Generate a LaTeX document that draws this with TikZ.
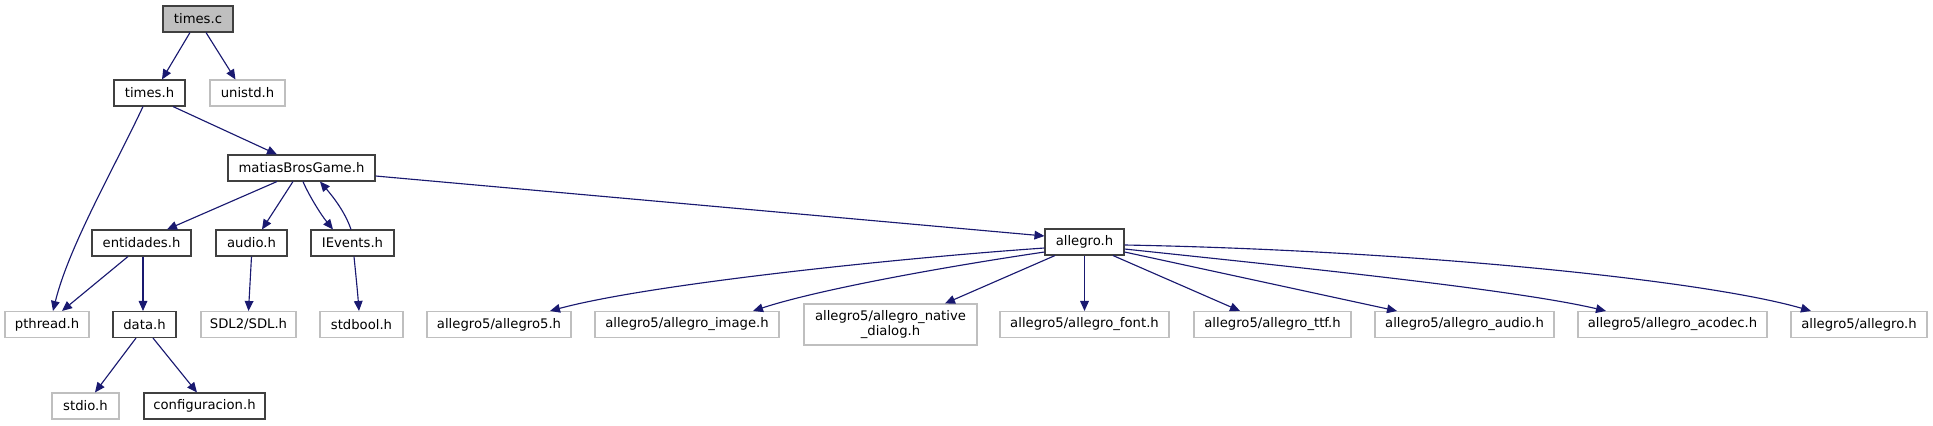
\documentclass[tikz,border=0pt]{standalone}
\usepackage{fontspec}
\setmainfont{DejaVu Sans}
\usetikzlibrary{arrows.meta,calc}
\definecolor{edgeblue}{HTML}{191970}
\definecolor{greyline}{HTML}{BFBFBF}
\definecolor{greyfill}{HTML}{BFBFBF}
\definecolor{darkline}{HTML}{404040}
\begin{document}
\begin{tikzpicture}[x=0.75pt,y=-0.75pt,
  font=\fontsize{9.9}{11.5}\selectfont,
  base/.style={inner sep=0pt, minimum height=19.5pt, line width=0.8pt, align=center},
  bk/.style={base, draw=darkline, fill=white},
  gr/.style={base, draw=greyline, fill=white},
  wd/.style={minimum width=#1*0.75pt},
  edge/.style={draw=edgeblue, line width=0.85pt, -{Triangle[length=7.5pt,width=6.5pt]}}]
\useasboundingbox (0,0) rectangle (1933,425);
% rank 0
\node[bk, wd=70, fill=greyfill] (timesc) at (198,19) {times.c};
% rank 1
\node[bk, wd=71] (timesh) at (149.5,93) {times.h};
\node[gr, wd=75] (unistd) at (247.5,93) {unistd.h};
% rank 2
\node[bk, wd=147] (matias) at (301.5,168) {matiasBrosGame.h};
% rank 3
\node[bk, wd=99] (entidades) at (141.5,243) {entidades.h};
\node[bk, wd=71] (audio) at (251.5,243) {audio.h};
\node[bk, wd=83] (ievents) at (352.5,243) {IEvents.h};
\node[bk, wd=79] (allegroh) at (1084.5,242) {allegro.h};
% rank 4
\node[gr, wd=84] (pthread) at (47,324.5) {pthread.h};
\node[bk, wd=63] (data) at (144.5,324.5) {data.h};
\node[gr, wd=95] (sdl) at (248.5,324.5) {SDL2/SDL.h};
\node[gr, wd=83] (stdbool) at (361.5,324.5) {stdbool.h};
\node[gr, wd=144] (afive) at (499,324.5) {allegro5/allegro5.h};
\node[gr, wd=184] (aimage) at (687,324.5) {allegro5/allegro\_image.h};
\node[gr, wd=173, minimum height=30.75pt] (anative) at (890.5,324.5) {allegro5/allegro\_native\\\_dialog.h};
\node[gr, wd=169] (afont) at (1084.5,324.5) {allegro5/allegro\_font.h};
\node[gr, wd=157] (attf) at (1272.5,324.5) {allegro5/allegro\_ttf.h};
\node[gr, wd=179] (aaudio) at (1464.5,324.5) {allegro5/allegro\_audio.h};
\node[gr, wd=189] (aacodec) at (1672.5,324.5) {allegro5/allegro\_acodec.h};
\node[gr, wd=136] (aallegro) at (1859,324.5) {allegro5/allegro.h};
% rank 5
\node[gr, wd=67] (stdio) at (85.5,406) {stdio.h};
\node[bk, wd=121] (config) at (204.5,406) {configuracion.h};

% edges
\draw[edge] ([shift={(-8,0)}]timesc.south) -- ([shift={(12.5,0)}]timesh.north);
\draw[edge] ([shift={(8,0)}]timesc.south) -- ([shift={(-12,0)}]unistd.north);
\draw[edge] ([shift={(-6.5,0)}]timesh.south) .. controls ([shift={(-34.5,60)}]timesh.south) and ([shift={(22,-65)}]pthread.north) .. ([shift={(6,0)}]pthread.north);
\draw[edge] ([shift={(23.5,0)}]timesh.south) -- ([shift={(-24.5,0)}]matias.north);
\draw[edge] ([shift={(-24.5,0)}]matias.south) -- ([shift={(25.5,0)}]entidades.north);
\draw[edge] ([shift={(-8.5,0)}]matias.south) -- ([shift={(10.5,0)}]audio.north);
\draw[edge] ([shift={(1.5,0)}]matias.south) .. controls ([shift={(6.5,12)}]matias.south) and ([shift={(-32.5,-16)}]ievents.north) .. ([shift={(-19.5,0)}]ievents.north);
\draw[edge] ([shift={(-1.5,0)}]ievents.north) .. controls ([shift={(-7.5,-18)}]ievents.north) and ([shift={(30.5,14)}]matias.south) .. ([shift={(18.5,0)}]matias.south);
\draw[edge] ([shift={(0,8)}]matias.east) -- ([shift={(0,-6)}]allegroh.west);
\draw[edge] ([shift={(-13.5,0)}]entidades.south) -- ([shift={(15,0)}]pthread.north);
\draw[edge] ([shift={(1.5,0)}]entidades.south) -- ([shift={(-1.5,0)}]data.north);
\draw[edge] (audio.south) -- (sdl.north);
\draw[edge] ([shift={(1.5,0)}]ievents.south) .. controls ([shift={(3.5,20)}]ievents.south) and ([shift={(-4,-20)}]stdbool.north) .. ([shift={(-2.5,0)}]stdbool.north);
\draw[edge] ([shift={(-8.5,0)}]data.south) -- ([shift={(9.5,0)}]stdio.north);
\draw[edge] ([shift={(8.5,0)}]data.south) -- ([shift={(-7.5,0)}]config.north);
% allegro.h fan-out
\draw[edge] ([shift={(0,6)}]allegroh.west) .. controls ([shift={(-145,16)}]allegroh.west) and ([shift={(151,-27)}]afive.north) .. ([shift={(51,0)}]afive.north);
\draw[edge] ([shift={(0,10)}]allegroh.west) .. controls ([shift={(-95,24)}]allegroh.west) and ([shift={(133,-22)}]aimage.north) .. ([shift={(66,0)}]aimage.north);
\draw[edge] ([shift={(-29.5,0)}]allegroh.south) -- ([shift={(54.5,0)}]anative.north);
\draw[edge] (allegroh.south) -- (afont.north);
\draw[edge] ([shift={(28.5,0)}]allegroh.south) -- ([shift={(-32.5,0)}]attf.north);
\draw[edge] ([shift={(0,10)}]allegroh.east) -- ([shift={(-67.5,0)}]aaudio.north);
\draw[edge] ([shift={(0,7)}]allegroh.east) .. controls ([shift={(160,24)}]allegroh.east) and ([shift={(-160,-22)}]aacodec.north) .. ([shift={(-66.5,0)}]aacodec.north);
\draw[edge] ([shift={(0,3)}]allegroh.east) .. controls ([shift={(276,8)}]allegroh.east) and ([shift={(-159,-32)}]aallegro.north) .. ([shift={(-48,0)}]aallegro.north);
\end{tikzpicture}
\end{document}
